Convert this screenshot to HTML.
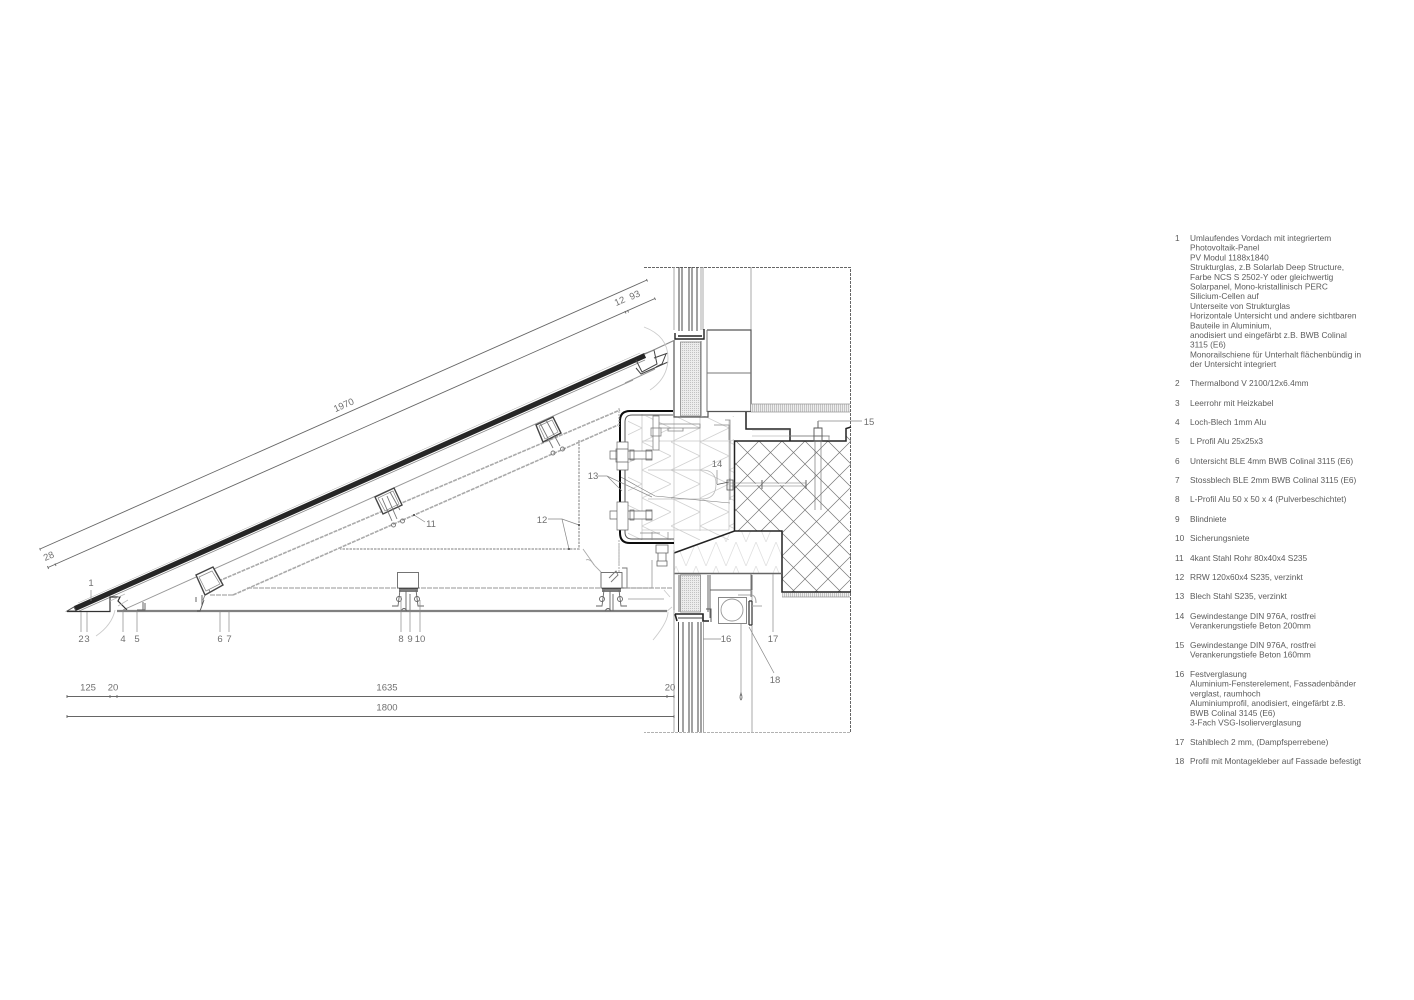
<!DOCTYPE html>
<html><head><meta charset="utf-8"><title>Detail Vordach</title>
<style>html,body{margin:0;padding:0;background:#fff}svg{display:block}
text{font-family:"Liberation Sans",Arial,sans-serif;fill:#666}
.n{font-size:9.5px;text-anchor:middle;fill:#707070}.l{font-size:8.3px;fill:#5c5c5c}</style></head>
<body>
<svg width="1414" height="1000" viewBox="0 0 1414 1000" xmlns="http://www.w3.org/2000/svg">
<defs>
<pattern id="x" width="23" height="23" patternUnits="userSpaceOnUse" x="736" y="441"><path d="M0 0L23 23M23 0L0 23" stroke="#777" stroke-width=".7"/></pattern>
<pattern id="z" width="29" height="28" patternUnits="userSpaceOnUse" x="642" y="414"><path d="M0 0L29 14L0 28" fill="none" stroke="#d2d2d2" stroke-width=".8"/></pattern>
<pattern id="zz" width="20" height="24" patternUnits="userSpaceOnUse" x="676" y="542"><path d="M0 0L10 24L20 0" fill="none" stroke="#e0e0e0" stroke-width=".8"/></pattern>
<pattern id="d" width="2" height="2" patternUnits="userSpaceOnUse"><rect width="2" height="2" fill="#ececec"/><rect width="1" height="1" fill="#c2c2c2"/></pattern>
<pattern id="h" width="2" height="8" patternUnits="userSpaceOnUse"><rect width="2" height="8" fill="#eee"/><rect width="1" height="8" fill="#c4c4c4"/></pattern>
<filter id="b" x="0" y="0" width="100%" height="100%"><feGaussianBlur stdDeviation=".35"/></filter>
<filter id="t" x="0" y="0" width="100%" height="100%"><feGaussianBlur stdDeviation=".2"/></filter>
</defs>
<rect width="1414" height="1000" fill="#fff"/>
<g filter="url(#b)" fill="none" stroke-linecap="butt">
<!-- frame -->
<path d="M644 267.5H850.5V732.5H644" stroke="#666" stroke-width="1" stroke-dasharray="3 1"/>
<path d="M751 267V330" stroke="#aaa"/>
<!-- insulation interior -->
<rect x="628" y="416" width="106" height="124" fill="url(#z)"/>
<path d="M674 553L735 531H782V573H674Z" fill="url(#zz)"/>
<path d="M642 414V540M674 414V552M700 416V531M729 420V530M642 441H729M642 530H729" stroke="#c8c8c8" stroke-width=".8"/>
<path d="M648 470H702Q716 470 716 484Q716 499 702 499H648" stroke="#bbb" stroke-width=".8"/>
<path d="M619 476L655 496L730 503" stroke="#777" stroke-width=".6"/>
<!-- upper facade glazing -->
<path d="M674 267V330M701 267V330M703 267V330" stroke="#aaa"/>
<path d="M679 267V331M682 267V331M689 267V331M692 267V331M697 267V331" stroke="#444" stroke-width="1"/>
<path d="M675 333V339H704V329M678 336H702" stroke="#222" stroke-width="1.4"/>
<path d="M707 330H751V411.5H708V417H674V341" stroke="#555" stroke-width="1.2"/>
<path d="M707 330V412M707 373H751M701 341V416" stroke="#777"/>
<rect x="680.5" y="342" width="20" height="74" fill="url(#d)" stroke="#888" stroke-width=".8"/>
<rect x="751" y="404" width="99" height="8" fill="url(#h)"/>
<path d="M751 412H850M751 404H850" stroke="#999" stroke-width=".7"/>
<!-- concrete -->
<path d="M734.5 441H846V428H851V592H782V531H734.5Z" fill="url(#x)"/>
<path d="M746 412V429H790V441" stroke="#222" stroke-width="1.5"/>
<path d="M734.5 531V441H846V428.5L851 427" stroke="#222" stroke-width="1.5"/>
<path d="M674 553L734.5 531H782V592H851" stroke="#222" stroke-width="1.5"/>
<rect x="782" y="593" width="68" height="4" fill="url(#h)"/>
<path d="M782 597H850" stroke="#999" stroke-width=".7"/>
<path d="M752 430L790 430M752 436H790M790 436H815M822 436H830" stroke="#999" stroke-width=".6"/>
<!-- rods -->
<path d="M730 483H806M730 486H806" stroke="#777" stroke-width=".6"/>
<path d="M740 484.5H760M775 484.5H800" stroke="#fff" stroke-width="1.4"/>
<path d="M730 478V490M762 480V489M806 480V489" stroke="#666"/>
<path d="M815 441V510M821 441V510" stroke="#777" stroke-width=".7"/>
<path d="M818 421V428M813 436L823 436M814 428H822V441H814Z" stroke="#555" stroke-width=".9"/>
<path d="M791 436H829V441" stroke="#777" stroke-width=".7"/>
<path d="M725 420H730V500" stroke="#888" stroke-width=".8"/>
<path d="M657 424H700V428H657ZM668 428H683V431H668Z" stroke="#888" stroke-width=".8"/>
<path d="M714 425H729V440" stroke="#888" stroke-width=".8"/>
<path d="M727 480H733V490H727ZM729 482L717 484.5" stroke="#555" stroke-width=".8"/>
<!-- C profile -->
<path d="M673 411H630Q620 411 620 421V533Q620 543 630 543H674" stroke="#111" stroke-width="2"/>
<path d="M673 415H632Q625 415 625 422V532Q625 539 632 539H674" stroke="#555" stroke-width="1"/>
<!-- bolts -->
<path d="M617 442H628V470H617ZM617 502H628V530H617ZM610 451H617V459H610ZM610 511H617V519H610ZM628 451H652V459H628ZM628 511H652V519H628ZM616 449H628V462H616ZM630 450H634V460H630ZM646 450H652V460H646ZM630 510H634V520H630ZM646 510H652V520H646Z" stroke="#666" stroke-width=".7" fill="#fff"/>
<path d="M653 416H659V450H653ZM651 428H661V436H651Z" stroke="#777" stroke-width=".7" fill="#fff"/>
<path d="M656 545H668V553H656ZM658 553H666V561H658ZM657 561H667V566H657Z" stroke="#666" stroke-width=".8" fill="#fff"/>
<path d="M652 532V540M668 532V540M640 533H660" stroke="#888" stroke-width=".7"/>
<!-- lower soffit -->
<path d="M674 553V610" stroke="#333" stroke-width="1.2"/>
<path d="M674 573.5H782" stroke="#666" stroke-width="1.6"/>
<path d="M679 575V612M710 575V618M708 575V612M700 575V612M710 590H752L752 575" stroke="#666" stroke-width="1"/>
<rect x="680.5" y="575" width="20" height="37" fill="url(#d)" stroke="#888" stroke-width=".8"/>
<path d="M675 614L677 621M675 614H703V621H709" stroke="#222" stroke-width="1.6"/>
<path d="M678 618H703" stroke="#444" stroke-width="1"/>
<path d="M706 609H711V622" stroke="#555"/>
<path d="M678.5 622V732M683 622V732M689 622V732M692 622V732M698 622V732M701 622V732" stroke="#444" stroke-width="1"/>
<path d="M674 550V732M703.5 622V732M752 591V732" stroke="#aaa"/>
<rect x="718.5" y="597.5" width="28" height="26" stroke="#888" stroke-width="1"/>
<circle cx="732" cy="610" r="11" stroke="#999" stroke-width=".9"/>
<path d="M749 601V625M752 601V625M749 601H752M749 625H752" stroke="#333" stroke-width="1.2"/>
<path d="M738 595H752Q756 596 756 603M752 606H762" stroke="#aaa" stroke-width="1.1"/>
<path d="M741 623V696" stroke="#888" stroke-width=".7"/>
<path d="M741 693Q743 698 741 700Q739 698 741 693Z" stroke="#666" stroke-width=".8"/>
<path d="M751 573V597" stroke="#777" stroke-width="1"/>
<path d="M653 640Q668 622 668 612M664 590L670 597M672 607L666 612" stroke="#ccc" stroke-width=".9"/>
<!-- roof rails -->
<path d="M123 610L633 380" stroke="#999" stroke-width="1"/>
<path d="M625 383L655 369" stroke="#999"/>
<path d="M214 583L620 410" stroke="#aaa" stroke-width="1.6" stroke-dasharray="4 1"/>
<path d="M233 595L618 425" stroke="#aaa" stroke-width="1.6" stroke-dasharray="4 1"/>
<path d="M579 440V549H340" stroke="#aaa" stroke-width="1.5" stroke-dasharray="2.5 1"/>
<path d="M619 408V427M619 540V575" stroke="#aaa" stroke-dasharray="2 1"/>
<path d="M210 595H233M247 588H673" stroke="#aaa" stroke-width="1.2" stroke-dasharray="5 1"/>
<!-- PV panel -->
<path d="M75 608.5L645 355.5" stroke="#262626" stroke-width="5.2"/>
<path d="M78 611.5L645 360" stroke="#888" stroke-width=".8"/>
<path d="M78 603L640 353" stroke="#aaa" stroke-width=".5"/>
<path d="M644 354L654 350L657 364L642 372L636 360M654 358L668 353M666 354L662 364L656 367M636 368L641 374L668 362" stroke="#444" stroke-width="1"/>
<path d="M645 354L675 340" stroke="#888" stroke-width="1.2"/>
<path d="M644 327Q668 336 668 358Q668 378 650 390" stroke="#ccc" stroke-width=".9"/>
<!-- eave -->
<path d="M67 611L74 607L76 611Z" stroke="#555" stroke-width="1"/>
<path d="M67 611.5H110V597H120L118 601L127 610" stroke="#333" stroke-width="1.2"/>
<path d="M110 601L125 594M118 606L128 600" stroke="#bbb" stroke-width=".8"/>
<path d="M96 636Q112 625 115 610" stroke="#ccc" stroke-width=".9"/>
<!-- bottom plate -->
<path d="M117 611H667" stroke="#808080" stroke-width="2.2"/>
<path d="M137 610H145V603M143 602V610" stroke="#555" stroke-width=".9"/>
<path d="M197 611H200L204 600M196 597V602M202 595V606" stroke="#555" stroke-width=".9"/>
<!-- clamps -->
<g fill="#fff" stroke="#444" stroke-width="1.4"><path d="M196 575L213 567L223 585L205 595Z"/><path d="M375 497L394 488L402 505L383 514Z"/><path d="M536 425L553 417L561 433L543 442Z"/></g>
<g stroke="#888" stroke-width=".7"><path d="M199 577L212 571L220 584L206 591Z"/><path d="M378 498L393 491L399 504L385 511Z"/><path d="M539 426L552 420L558 432L545 439Z"/></g>
<g stroke="#777" stroke-width=".9">
<path d="M382 498L392 521M387 496L397 519M390 492L400 510M540 423L553 448M546 420L560 446"/>
<circle cx="393.500" cy="525" r="2"/><circle cx="402.500" cy="521" r="2"/><circle cx="553" cy="453" r="2"/><circle cx="562.500" cy="449" r="2"/>
<path d="M205 595L203 600M210 592L209 590"/>
</g>
<!-- brackets -->
<g stroke="#666" stroke-width=".9">
<rect x="397.500" y="572.500" width="21" height="15.500" fill="#fff"/><rect x="601" y="572.500" width="21" height="15.500" fill="#fff"/>
<path d="M399 589H418M399 591H418" stroke="#333" stroke-width="1.2"/>
<path d="M602 589H621M602 591H621" stroke="#333" stroke-width="1.2"/>
<path d="M400 590L398 606H392M416 590L418 606H424M406 591V611M410 594V611M401 611Q404 606 407 611"/>
<path d="M604 590L602 606H596M619 590L621 606H627M610 591V611M613 594V611M605 611Q608 606 611 611"/>
<circle cx="399" cy="599" r="2.500"/><circle cx="417" cy="599" r="2.500"/><circle cx="602" cy="599" r="2.500"/><circle cx="620" cy="599" r="2.500"/>
<path d="M609 578L616 571L618 575L611 582M622 568H627V588H622" stroke="#777"/>
<path d="M583 549L595 566L601 572M586 560Q590 558 594 565" stroke="#aaa"/>
<path d="M619 545V565" stroke="#aaa"/>
<path d="M652 560V588H625M628 599H664" stroke="#999" stroke-width=".8"/>
</g>
<!-- dims -->
<g stroke="#666" stroke-width=".9">
<path d="M40 549L647 280M48 567.500L655 298.500"/>
<path d="M39.500 548L40.500 550.500M47.500 566L48.500 569M646.500 279L647.500 281.500M654.500 297.500L655.500 300M55 563.500L56 566M625 311L626 313.500M627.500 310L628.500 312.500"/>
<path d="M66.500 696.500H674M66.500 716.500H674"/>
<path d="M67 695V698M110 695V698M117 695V698M667 695V698M674 695V698M67 715V718M674 715V718"/>
</g>
<!-- leaders -->
<g stroke="#888" stroke-width=".7">
<path d="M91 590V601M81 612V632M87 612V632M123 611V632M137 611V632M220 611V632M229 611V632"/>
<path d="M401 596V632M410 595V632M420 600V632"/>
<path d="M414 515L425 522M548 519H562L579 525M562 519L569 549"/>
<path d="M598 476H607L652 497M607 476L622 491"/>
<path d="M717 470V484M818 421H862M703 639H721M773 574V632M749 627L774 673"/>
</g>
<circle cx="414" cy="515" r="1" fill="#444"/><circle cx="579" cy="525" r="1" fill="#444"/><circle cx="569" cy="549" r="1" fill="#444"/>
</g>
<!-- drawing labels -->
<g filter="url(#t)">
<text class="n" x="91" y="586">1</text><text class="n" x="81" y="642">2</text><text class="n" x="87" y="642">3</text><text class="n" x="123" y="642">4</text><text class="n" x="137" y="642">5</text><text class="n" x="220" y="642">6</text><text class="n" x="229" y="642">7</text>
<text class="n" x="401" y="642">8</text><text class="n" x="410" y="642">9</text><text class="n" x="420" y="642">10</text>
<text class="n" x="431" y="527">11</text><text class="n" x="542" y="523">12</text><text class="n" x="593" y="479">13</text><text class="n" x="717" y="467">14</text><text class="n" x="869" y="425">15</text>
<text class="n" x="726" y="642">16</text><text class="n" x="773" y="642">17</text><text class="n" x="775" y="683">18</text>
<text class="n" x="88" y="690.500">125</text><text class="n" x="113" y="690.500">20</text><text class="n" x="387" y="690.500">1635</text><text class="n" x="670" y="690.500">20</text><text class="n" x="387" y="710.500">1800</text>
<text class="n" transform="translate(345 408) rotate(-24)">1970</text>
<text class="n" transform="translate(50 559) rotate(-24)">28</text>
<text class="n" transform="translate(621 304) rotate(-24)">12</text>
<text class="n" transform="translate(636 298) rotate(-24)">93</text>
</g>
<!-- legend -->
<g filter="url(#t)">
<text class="l" x="1175" y="241">1</text>
<text class="l" x="1190" y="241">Umlaufendes Vordach mit integriertem</text>
<text class="l" x="1190" y="250.700">Photovoltaik-Panel</text>
<text class="l" x="1190" y="260.400">PV Modul 1188x1840</text>
<text class="l" x="1190" y="270.100">Strukturglas, z.B Solarlab Deep Structure,</text>
<text class="l" x="1190" y="279.800">Farbe NCS S 2502-Y oder gleichwertig</text>
<text class="l" x="1190" y="289.500">Solarpanel, Mono-kristallinisch PERC</text>
<text class="l" x="1190" y="299.200">Silicium-Cellen auf</text>
<text class="l" x="1190" y="308.900">Unterseite von Strukturglas</text>
<text class="l" x="1190" y="318.600">Horizontale Untersicht und andere sichtbaren</text>
<text class="l" x="1190" y="328.300">Bauteile in Aluminium,</text>
<text class="l" x="1190" y="338">anodisiert und eingefärbt z.B. BWB Colinal</text>
<text class="l" x="1190" y="347.700">3115 (E6)</text>
<text class="l" x="1190" y="357.400">Monorailschiene für Unterhalt flächenbündig in</text>
<text class="l" x="1190" y="367.100">der Untersicht integriert</text>
<text class="l" x="1175" y="386">2</text><text class="l" x="1190" y="386">Thermalbond V 2100/12x6.4mm</text>
<text class="l" x="1175" y="406">3</text><text class="l" x="1190" y="406">Leerrohr mit Heizkabel</text>
<text class="l" x="1175" y="425">4</text><text class="l" x="1190" y="425">Loch-Blech 1mm Alu</text>
<text class="l" x="1175" y="444">5</text><text class="l" x="1190" y="444">L Profil Alu 25x25x3</text>
<text class="l" x="1175" y="464">6</text><text class="l" x="1190" y="464">Untersicht BLE 4mm BWB Colinal 3115 (E6)</text>
<text class="l" x="1175" y="483">7</text><text class="l" x="1190" y="483">Stossblech BLE 2mm BWB Colinal 3115 (E6)</text>
<text class="l" x="1175" y="502">8</text><text class="l" x="1190" y="502">L-Profil Alu 50 x 50 x 4 (Pulverbeschichtet)</text>
<text class="l" x="1175" y="522">9</text><text class="l" x="1190" y="522">Blindniete</text>
<text class="l" x="1175" y="541">10</text><text class="l" x="1190" y="541">Sicherungsniete</text>
<text class="l" x="1175" y="561">11</text><text class="l" x="1190" y="561">4kant Stahl Rohr 80x40x4 S235</text>
<text class="l" x="1175" y="580">12</text><text class="l" x="1190" y="580">RRW 120x60x4 S235, verzinkt</text>
<text class="l" x="1175" y="599">13</text><text class="l" x="1190" y="599">Blech Stahl S235, verzinkt</text>
<text class="l" x="1175" y="619">14</text><text class="l" x="1190" y="619">Gewindestange DIN 976A, rostfrei</text>
<text class="l" x="1190" y="628.500">Verankerungstiefe Beton 200mm</text>
<text class="l" x="1175" y="648">15</text><text class="l" x="1190" y="648">Gewindestange DIN 976A, rostfrei</text>
<text class="l" x="1190" y="657.500">Verankerungstiefe Beton 160mm</text>
<text class="l" x="1175" y="677">16</text><text class="l" x="1190" y="677">Festverglasung</text>
<text class="l" x="1190" y="686.700">Aluminium-Fensterelement, Fassadenbänder</text>
<text class="l" x="1190" y="696.400">verglast, raumhoch</text>
<text class="l" x="1190" y="706.100">Aluminiumprofil, anodisiert, eingefärbt z.B.</text>
<text class="l" x="1190" y="715.800">BWB Colinal 3145 (E6)</text>
<text class="l" x="1190" y="725.500">3-Fach VSG-Isolierverglasung</text>
<text class="l" x="1175" y="745">17</text><text class="l" x="1190" y="745">Stahlblech 2 mm, (Dampfsperrebene)</text>
<text class="l" x="1175" y="764">18</text><text class="l" x="1190" y="764">Profil mit Montagekleber auf Fassade befestigt</text>
</g>
</svg>
</body></html>
